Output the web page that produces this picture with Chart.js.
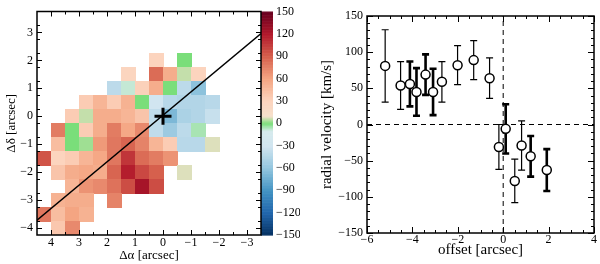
<!DOCTYPE html>
<html>
<head>
<meta charset="utf-8">
<script src="https://cdn.jsdelivr.net/npm/chart.js@4.4.0/dist/chart.umd.min.js"></script>
<style>
  html, body { margin: 0; padding: 0; background: #fff; }
  #wrap { width: 600px; height: 264px; display: flex; }
  .panel { width: 300px; height: 264px; }
</style>
</head>
<body>
<div id="wrap">
  <div class="panel"><canvas id="map" width="300" height="264"></canvas></div>
  <div class="panel"><canvas id="rv" width="300" height="264"></canvas></div>
</div>
<script>
// ---- velocity map (0.5" pixels), km/s ----
const N = null;
const mapX = [4.25, 3.75, 3.25, 2.75, 2.25, 1.75, 1.25, 0.75, 0.25, -0.25, -0.75, -1.25, -1.75, -2.25, -2.75, -3.25];
const mapY = [3.5, 3.0, 2.5, 2.0, 1.5, 1.0, 0.5, 0.0, -0.5, -1.0, -1.5, -2.0, -2.5, -3.0, -3.5, -4.0];
const velMap = [
  [N, N, N, N, N, N, N, N, N, N, N, N, N, N, N, N],
  [N, N, N, N, N, N, N, N, N, N, N, N, N, N, N, N],
  [N, N, N, N, N, N, N, N, N, N, N, N, N, N, N, N],
  [N, N, N, N, N, N, N, N, 30, N, 0, N, N, N, N, N],
  [N, N, N, N, N, N, 28, N, 85, 55, 6, 30, N, N, N, N],
  [N, N, N, N, N, -40, -8, 32, 55, 0, -40, -62, N, N, N, N],
  [N, N, N, 35, 50, 35, 52, 0, -30, -42, -45, -45, -42, N, N, N],
  [N, N, 35, 6, 55, 55, 50, 40, -38, -68, -48, -45, -35, N, N, N],
  [N, 78, 0, 35, 55, 78, 58, 72, -38, -55, -40, -5, N, N, N, N],
  [N, 45, 0, 3, 65, 80, 88, 75, 50, 35, -42, -42, 8, N, N, N],
  [95, 30, 35, 50, 58, 80, 108, 85, 78, 68, N, N, N, N, N, N],
  [N, 40, 55, 58, 55, 88, 118, 100, 90, N, 8, N, N, N, N, N],
  [N, N, 50, 68, 72, 82, 98, 125, 98, N, N, N, N, N, N, N],
  [N, 52, 55, 55, N, 75, N, N, N, N, N, N, N, N, N, N],
  [80, 45, 60, 52, N, N, N, N, N, N, N, N, N, N, N, N],
  [N, 38, 72, N, N, N, N, N, N, N, N, N, N, N, N, N]
];
const mapXTicks = [4, 3, 2, 1, 0, -1, -2, -3];
const mapYTicks = [3, 2, 1, 0, -1, -2, -3, -4];
const cbarTicks = [-150, -120, -90, -60, -30, 0, 30, 60, 90, 120, 150];
// position-angle line and centre
const paLineX = [4.5, -3.5];
const paLineY = [-3.72, 2.96];
const centreX = [0];
const centreY = [0];

// ---- radial velocity curve ----
const thinOffset = [-5.20, -4.52, -2.70, -2.01, -1.30, -0.60, -0.19, 0.51, 0.81];
const thinVel    = [81, 54, 59, 82, 89, 64, -31, -78, -29];
const thinErr    = [50, 33, 28, 27, 27, 28, 31, 30, 34];
const thickOffset = [-4.11, -3.82, -3.42, -3.09, 0.11, 1.21, 1.92];
const thickVel    = [56, 45, 69, 45, -6, -44, -63];
const thickErr    = [31, 33, 28, 32, 34, 28, 29];

// colour map: RdBu_r with green at zero
const cmapVals = [-150, -120, -90, -60, -30, -10, 0, 10, 30, 60, 90, 120, 150];
const cmapRGB = [[5,48,97],[33,102,172],[67,147,195],[146,197,222],[209,229,240],[214,234,236],
                 [122,222,122],[246,224,204],[252,212,190],[244,165,130],[214,96,77],[178,24,43],[103,0,31]];
function velColor(v) {
  v = Math.max(-150, Math.min(150, v));
  let i = 0;
  while (i < cmapVals.length - 2 && v > cmapVals[i + 1]) i++;
  const t = (v - cmapVals[i]) / (cmapVals[i + 1] - cmapVals[i]);
  const a = cmapRGB[i], b = cmapRGB[i + 1];
  const c = a.map((k, j) => Math.round(k + (b[j] - k) * t));
  return 'rgb(' + c.join(',') + ')';
}

const fmt = v => (v < 0 ? '\u2212' + Math.abs(v) : String(v));
// fix axis box size and drop the automatic label overflow padding
const fixBox = (w, h) => s => {
  if (w !== null) s.width = w;
  if (h !== null) s.height = h;
  s.paddingTop = 0; s.paddingBottom = 0; s.paddingLeft = 0; s.paddingRight = 0;
};

Chart.defaults.font.family = "'Liberation Serif', 'DejaVu Serif', serif";
Chart.defaults.font.size = 12;
Chart.defaults.color = '#000';
Chart.defaults.animation = false;

// inward ticks on all four sides + frame
function frameTicks(xMinor, yMinor, majLen, minLen) {
  return {
    id: 'frameTicks',
    afterDatasetsDraw(chart) {
      const { ctx, chartArea: a, scales: { x, y } } = chart;
      ctx.save();
      ctx.strokeStyle = '#000';
      ctx.lineWidth = 1;
      const seg = (x0, y0, x1, y1) => { ctx.beginPath(); ctx.moveTo(x0, y0); ctx.lineTo(x1, y1); ctx.stroke(); };
      const xTick = (v, len) => { const p = Math.round(x.getPixelForValue(v)) + 0.5; seg(p, a.bottom, p, a.bottom - len); seg(p, a.top, p, a.top + len); };
      const yTick = (v, len) => { const p = Math.round(y.getPixelForValue(v)) + 0.5; seg(a.left, p, a.left + len, p); seg(a.right, p, a.right - len, p); };
      let n = Math.round((x.max - x.min) / xMinor);
      for (let i = 1; i < n; i++) xTick(x.min + i * xMinor, minLen);
      n = Math.round((y.max - y.min) / yMinor);
      for (let i = 1; i < n; i++) yTick(y.min + i * yMinor, minLen);
      x.ticks.forEach(t => xTick(t.value, majLen));
      y.ticks.forEach(t => yTick(t.value, majLen));
      ctx.lineWidth = 1.5;
      ctx.strokeRect(a.left, a.top, a.width, a.height);
      ctx.restore();
    }
  };
}

const heatmap = {
  id: 'heatmap',
  beforeDatasetsDraw(chart) {
    const { ctx, chartArea: a, scales: { x, y, cb } } = chart;
    ctx.save();
    // colour bar
    for (let v = -150; v < 150; v++) {
      const y0 = cb.getPixelForValue(v + 1), y1 = cb.getPixelForValue(v);
      ctx.fillStyle = velColor(v + 0.5);
      ctx.fillRect(a.right, y0, 12, y1 - y0 + 0.6);
    }
    ctx.beginPath();
    ctx.rect(a.left, a.top, a.width, a.height);
    ctx.clip();
    velMap.forEach((row, r) => row.forEach((v, c) => {
      if (v === null) return;
      const x0 = x.getPixelForValue(mapX[c] + 0.25), x1 = x.getPixelForValue(mapX[c] - 0.25);
      const y0 = y.getPixelForValue(mapY[r] + 0.25), y1 = y.getPixelForValue(mapY[r] - 0.25);
      ctx.fillStyle = velColor(v);
      ctx.fillRect(Math.floor(Math.min(x0, x1)), Math.floor(Math.min(y0, y1)),
                   Math.ceil(Math.abs(x1 - x0)) + 1, Math.ceil(Math.abs(y1 - y0)) + 1);
    }));
    ctx.restore();
  }
};

new Chart(document.getElementById('map'), {
  type: 'scatter',
  data: {
    datasets: [
      {
        data: centreX.map((x, i) => ({ x, y: centreY[i] })),
        pointStyle: 'cross', pointRadius: 8.5, borderWidth: 3, borderColor: '#000'
      },
      {
        data: paLineX.map((x, i) => ({ x, y: paLineY[i] })),
        showLine: true, borderColor: '#000', borderWidth: 1.4, pointRadius: 0
      }
    ]
  },
  options: {
    responsive: false,
    layout: { padding: { top: 10, left: 0, right: 0, bottom: 0 } },
    plugins: { legend: { display: false }, tooltip: { enabled: false } },
    events: [],
    scales: {
      x: {
        type: 'linear', reverse: true, min: -3.5, max: 4.5,
        afterBuildTicks: s => { s.ticks = mapXTicks.map(v => ({ value: v })); },
        afterFit: fixBox(null, 29),
        grid: { display: false, drawTicks: false }, border: { display: false },
        ticks: { padding: 1, callback: fmt, maxRotation: 0, font: { size: 12 } },
        title: { display: true, text: '\u0394\u03b1 [arcsec]', font: { size: 13 }, padding: { top: 0, bottom: 1 } }
      },
      y: {
        type: 'linear', min: -4.25, max: 3.75, position: 'left',
        afterBuildTicks: s => { s.ticks = mapYTicks.map(v => ({ value: v })); },
        afterFit: fixBox(37, null),
        grid: { display: false, drawTicks: false }, border: { display: false },
        ticks: { padding: 4, callback: fmt, font: { size: 12 } },
        title: { display: true, text: '\u0394\u03b4 [arcsec]', font: { size: 13 }, padding: { top: 4, bottom: 0 } }
      },
      cb: {
        type: 'linear', axis: 'y', position: 'right', min: -150, max: 150,
        afterBuildTicks: s => { s.ticks = cbarTicks.map(v => ({ value: v })); },
        afterFit: fixBox(39, null),
        grid: { display: false, drawTicks: false }, border: { display: false },
        ticks: { padding: 15, callback: fmt, font: { size: 12 } }
      }
    }
  },
  plugins: [heatmap, frameTicks(0.5, 0.5, 5, 3)]
});

const errorBars = {
  id: 'errorBars',
  beforeDatasetDraw(chart, args) {
    const ds = chart.data.datasets[args.index];
    if (!ds.errWidth) return;
    const { ctx, scales: { x, y } } = chart;
    ctx.save();
    ctx.strokeStyle = '#000';
    ctx.lineWidth = ds.errWidth;
    ds.data.forEach(p => {
      const px = x.getPixelForValue(p.x);
      const yt = y.getPixelForValue(p.y + p.err), yb = y.getPixelForValue(p.y - p.err);
      ctx.beginPath();
      ctx.moveTo(px, yt); ctx.lineTo(px, yb);
      ctx.moveTo(px - 3.5, yt); ctx.lineTo(px + 3.5, yt);
      ctx.moveTo(px - 3.5, yb); ctx.lineTo(px + 3.5, yb);
      ctx.stroke();
    });
    ctx.restore();
  }
};

const pointStyle = { pointStyle: 'circle', pointRadius: 4.5, borderWidth: 1.5, borderColor: '#000', backgroundColor: '#fff' };

new Chart(document.getElementById('rv'), {
  type: 'scatter',
  data: {
    datasets: [
      Object.assign({ data: thinOffset.map((x, i) => ({ x, y: thinVel[i], err: thinErr[i] })), errWidth: 1.2 }, pointStyle),
      Object.assign({ data: thickOffset.map((x, i) => ({ x, y: thickVel[i], err: thickErr[i] })), errWidth: 2.6 }, pointStyle),
      { data: [{ x: -6, y: 0 }, { x: 4, y: 0 }], showLine: true, borderColor: '#000', borderWidth: 1, borderDash: [5, 4], pointRadius: 0 },
      { data: [{ x: 0, y: -150 }, { x: 0, y: 150 }], showLine: true, borderColor: '#000', borderWidth: 1, borderDash: [5, 4], pointRadius: 0 }
    ]
  },
  options: {
    responsive: false,
    layout: { padding: { top: 16, left: 0, right: 4, bottom: 0 } },
    plugins: { legend: { display: false }, tooltip: { enabled: false } },
    events: [],
    scales: {
      x: {
        type: 'linear', min: -6, max: 4,
        ticks: { stepSize: 2, padding: 0, callback: fmt, maxRotation: 0, font: { size: 12 } },
        afterFit: fixBox(null, 31),
        grid: { display: false, drawTicks: false }, border: { display: false },
        title: { display: true, text: 'offset [arcsec]', font: { size: 15 }, padding: { top: 0, bottom: 5 } }
      },
      y: {
        type: 'linear', min: -150, max: 150,
        ticks: { stepSize: 50, padding: 4, callback: fmt, font: { size: 12 } },
        afterFit: fixBox(67, null),
        grid: { display: false, drawTicks: false }, border: { display: false },
        title: { display: true, text: 'radial velocity [km/s]', font: { size: 15 }, padding: { top: 18, bottom: 0 } }
      }
    }
  },
  plugins: [errorBars, frameTicks(0.5, 10, 6, 3)]
});
</script>
</body>
</html>
